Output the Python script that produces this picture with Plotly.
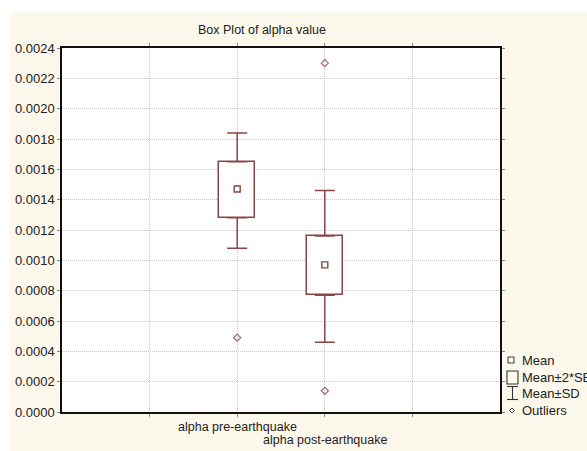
import plotly.graph_objects as go

# Summary statistics per group
categories = ["alpha pre-earthquake", "alpha post-earthquake"]
means = [0.00147, 0.00097]
se2_low = [0.00128, 0.00077]     # mean - 2*SE
se2_high = [0.00165, 0.00116]    # mean + 2*SE
sd_low = [0.00108, 0.00046]      # mean - SD
sd_high = [0.00184, 0.00146]     # mean + SD
outlier_x = ["alpha pre-earthquake", "alpha post-earthquake", "alpha post-earthquake"]
outlier_y = [0.00049, 0.00230, 0.00014]

y_ticks = [i * 0.0002 for i in range(13)]

# categories sit on slots 2 and 3 of a 0..5 axis
pos = {c: i + 2 for i, c in enumerate(categories)}
xs = [pos[c] for c in categories]
ox = [pos[c] for c in outlier_x]

BOX = "#8a4444"
OUT = "#a05a66"
FONT = "Liberation Sans, Arial, sans-serif"
GRID = "#c8c8c8"

W, H = 587, 451
L, R, T, B = 62, 87, 48, 39
PW, PH = W - L - R, H - T - B


def px(x):
    return (x - L) / PW


def py(y):
    return (H - B - y) / PH


fig = go.Figure()

# mean ± 2*SE box
fig.add_trace(go.Bar(
    x=xs, base=se2_low, y=[h - l for h, l in zip(se2_high, se2_low)],
    width=0.41, marker=dict(color="white", line=dict(color=BOX, width=1.5)),
    hoverinfo="skip", showlegend=False,
))

# whiskers (box edge to mean ± SD) with caps
fig.add_trace(go.Scatter(
    x=xs, y=se2_high, mode="markers", marker=dict(size=1, opacity=0),
    error_y=dict(type="data", symmetric=False,
                 array=[h - t for h, t in zip(sd_high, se2_high)],
                 arrayminus=[0] * len(xs), color=BOX, thickness=1.5, width=10),
    showlegend=False, hoverinfo="skip",
))
fig.add_trace(go.Scatter(
    x=xs, y=se2_low, mode="markers", marker=dict(size=1, opacity=0),
    error_y=dict(type="data", symmetric=False,
                 array=[0] * len(xs),
                 arrayminus=[b - l for b, l in zip(se2_low, sd_low)],
                 color=BOX, thickness=1.5, width=10),
    showlegend=False, hoverinfo="skip",
))

# means
fig.add_trace(go.Scatter(
    x=xs, y=means, mode="markers",
    marker=dict(symbol="square-open", size=6, color=BOX, line=dict(width=1.4)),
    showlegend=False,
))

# outliers
fig.add_trace(go.Scatter(
    x=ox, y=outlier_y, mode="markers",
    marker=dict(symbol="diamond-open", size=5.5, color=OUT, line=dict(width=1.1)),
    showlegend=False,
))

shapes = [
    # white margin strips around the cream panel
    dict(type="rect", xref="paper", yref="paper", x0=px(-5), x1=px(W + 5),
         y0=py(12), y1=py(-5), fillcolor="white", line_width=0, layer="below"),
    dict(type="rect", xref="paper", yref="paper", x0=px(-5), x1=px(10),
         y0=py(H + 5), y1=py(-5), fillcolor="white", line_width=0, layer="below"),
]

# legend glyphs
shapes += [
    dict(type="rect", xref="paper", yref="paper", x0=px(508), x1=px(514),
         y0=py(363), y1=py(357), line=dict(color="#444444", width=1.1)),
    dict(type="rect", xref="paper", yref="paper", x0=px(507), x1=px(518),
         y0=py(384), y1=py(371), line=dict(color="#333333", width=1.1)),
    dict(type="line", xref="paper", yref="paper", x0=px(507), x1=px(518),
         y0=py(386.5), y1=py(386.5), line=dict(color="#333333", width=1.1)),
    dict(type="line", xref="paper", yref="paper", x0=px(512.5), x1=px(512.5),
         y0=py(386.5), y1=py(399.5), line=dict(color="#333333", width=1.1)),
    dict(type="line", xref="paper", yref="paper", x0=px(507), x1=px(518),
         y0=py(399.5), y1=py(399.5), line=dict(color="#333333", width=1.1)),
    dict(type="path", xref="paper", yref="paper",
         path=(f"M {px(512)} {py(408)} L {px(514.5)} {py(410.5)} "
               f"L {px(512)} {py(413)} L {px(509.5)} {py(410.5)} Z"),
         line=dict(color="#444444", width=1)),
]

legend_items = [("Mean", 360), ("Mean±2*SE", 377.5), ("Mean±SD", 393.5), ("Outliers", 410.5)]
annotations = [
    dict(text=t, xref="paper", yref="paper", x=px(520), y=py(yy), xanchor="left",
         yanchor="middle", showarrow=False, font=dict(size=13, color="#222222", family=FONT))
    for t, yy in legend_items
]

# staggered category labels
for i, c in enumerate(categories):
    annotations.append(dict(
        text=c, xref="x", yref="paper", x=pos[c], y=py(427 + 13 * i),
        xanchor="center", yanchor="middle", showarrow=False,
        font=dict(size=12.5, color="#222222", family=FONT),
    ))

annotations.append(dict(
    text="Box Plot of alpha value", xref="paper", yref="paper", x=px(262), y=py(30),
    xanchor="center", yanchor="middle", showarrow=False,
    font=dict(size=12.5, color="#222222", family=FONT),
))

fig.update_layout(
    width=W, height=H,
    margin=dict(l=L, r=R, t=T, b=B, autoexpand=False),
    paper_bgcolor="#fcf8ec", plot_bgcolor="white",
    font=dict(family=FONT, size=13, color="#222222"),
    shapes=shapes, annotations=annotations,
    showlegend=False,
    bargap=0,
)

fig.update_xaxes(
    range=[0, 5], tickvals=[1, 2, 3, 4], ticktext=["", "", "", ""],
    showgrid=True, gridcolor=GRID, griddash="1px,1px", gridwidth=1,
    showline=True, linecolor="#111111", linewidth=1.5, mirror="allticks",
    ticks="outside", ticklen=3, tickcolor="#888888", zeroline=False,
)
fig.update_yaxes(
    range=[0, 0.0024], tickvals=y_ticks, tickformat=".4f",
    showgrid=True, gridcolor=GRID, griddash="1px,1px", gridwidth=1,
    showline=True, linecolor="#111111", linewidth=1.5, mirror="allticks",
    ticks="outside", ticklen=3, tickcolor="#888888", zeroline=False,
    tickfont=dict(size=13, color="#222222", family=FONT),
)

fig.write_html("out.html")
